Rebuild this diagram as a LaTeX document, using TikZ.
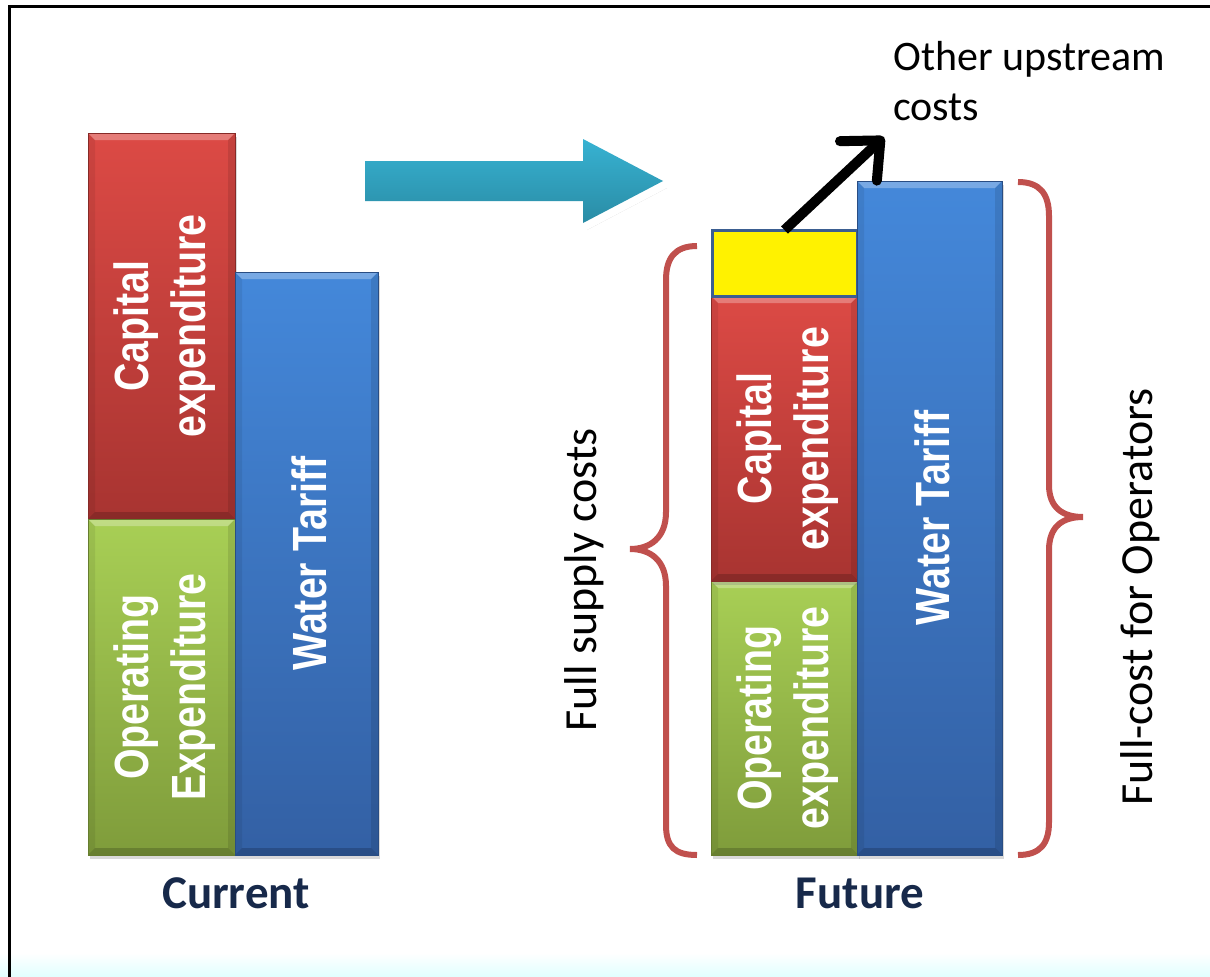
\documentclass[tikz,border=0pt]{standalone}
\usepackage{fontspec}
\setmainfont{Carlito}
\newfontfamily\barfont{Liberation Sans Bold}[FakeStretch=0.82]
\usetikzlibrary{shadows,arrows.meta}

\definecolor{redtop}{HTML}{DC4A45}
\definecolor{redbot}{HTML}{A83431}
\definecolor{greentop}{HTML}{A8CF55}
\definecolor{greenbot}{HTML}{7F9C3B}
\definecolor{bluetop}{HTML}{4488DA}
\definecolor{bluebot}{HTML}{3360A4}
\definecolor{cyantop}{HTML}{37B2D2}
\definecolor{cyanbot}{HTML}{2A8CA5}
\definecolor{bracered}{HTML}{C0504D}
\definecolor{navy}{HTML}{17294A}
\definecolor{boxedge}{HTML}{3B5E91}

\tikzset{
  bevel/.style={path picture={
    \coordinate (pnw) at (path picture bounding box.north west);
    \coordinate (pne) at (path picture bounding box.north east);
    \coordinate (psw) at (path picture bounding box.south west);
    \coordinate (pse) at (path picture bounding box.south east);
    \fill[white,opacity=.28] (pnw) -- (pne) -- ([shift={(-7pt,-7pt)}]pne) -- ([shift={(7pt,-7pt)}]pnw) -- cycle;
    \fill[black,opacity=.18] (psw) -- (pse) -- ([shift={(-7pt,7pt)}]pse) -- ([shift={(7pt,7pt)}]psw) -- cycle;
    \fill[black,opacity=.07] (pnw) -- ([shift={(7pt,-7pt)}]pnw) -- ([shift={(7pt,7pt)}]psw) -- (psw) -- cycle;
    \fill[black,opacity=.10] (pne) -- ([shift={(-7pt,-7pt)}]pne) -- ([shift={(-7pt,7pt)}]pse) -- (pse) -- cycle;
  }},
  bar/.style={anchor=north west, inner sep=0pt, outer sep=0pt, bevel,
    drop shadow={shadow xshift=2pt, shadow yshift=-4pt, opacity=.3}},
  redbar/.style={bar, top color=redtop, bottom color=redbot, draw=redbot!80!black, line width=.6pt},
  greenbar/.style={bar, top color=greentop, bottom color=greenbot, draw=greenbot!80!black, line width=.6pt},
  bluebar/.style={bar, top color=bluetop, bottom color=bluebot, draw=bluebot!80!black, line width=.6pt},
  bartext/.style={rotate=90, align=center, text=white, font=\barfont\fontsize{48}{57}\selectfont},
  brace/.style={draw=bracered, line width=6pt},
  caption/.style={anchor=base, text=navy, font=\bfseries\fontsize{47}{56}\selectfont},
  sidetext/.style={rotate=90, font=\fontsize{46}{55}\selectfont},
}

\begin{document}
\begin{tikzpicture}[x=1pt,y=-1pt]
\useasboundingbox (0,0) rectangle (1210,977);

% pale strip along the bottom edge
\fill[top color=white, bottom color=cyan!12] (0,953) rectangle (1210,977);

% frame
\draw[line width=3.5pt] (9.5,977) -- (9.5,6.5) -- (1210,6.5);

% current cost bars
\node[redbar, minimum width=147pt, minimum height=386pt] (capcur) at (88,133) {};
\node[greenbar, minimum width=147pt, minimum height=336pt] (opcur) at (88,519) {};
\node[bluebar, minimum width=143pt, minimum height=583pt] (tarcur) at (235,272) {};
\node[bartext] at ([xshift=3pt]capcur.center) {Capital\\expenditure};
\node[bartext] at ([xshift=3pt]opcur.center) {Operating\\Expenditure};
\node[bartext] at ([xshift=3pt]tarcur.center) {Water Tariff};

% transition arrow
\path[fill=black, opacity=.18] (369,168) -- (587,168) -- (587,146) -- (667,188) -- (587,230) -- (587,208) -- (369,208) -- cycle;
\path[draw=white, fill=white, line width=16pt, line join=miter]
  (365,161) -- (583,161) -- (583,139) -- (663,181) -- (583,223) -- (583,201) -- (365,201) -- cycle;
\path[top color=cyantop, bottom color=cyanbot]
  (365,161) -- (583,161) -- (583,139) -- (663,181) -- (583,223) -- (583,201) -- (365,201) -- cycle;

% future cost bars
\node[greenbar, minimum width=147pt, minimum height=274pt] (opfut) at (711,581) {};
\node[redbar, minimum width=147pt, minimum height=285pt] (capfut) at (711,296) {};
\node[anchor=north west, inner sep=0pt, outer sep=0pt, fill=yellow, draw=boxedge, line width=3pt,
  minimum width=145pt, minimum height=66pt] (upstream) at (712,230) {};
\node[bluebar, minimum width=145pt, minimum height=674pt] (tarfut) at (857,181) {};
\node[bartext] at ([xshift=3pt]capfut.center) {Capital\\expenditure};
\node[bartext] at ([xshift=3pt]opfut.center) {Operating\\expenditure};
\node[bartext] at ([xshift=3pt]tarfut.center) {Water Tariff};

% pointer to the upstream cost label
\node[anchor=north west, align=left, inner sep=0pt, font=\fontsize{42}{50}\selectfont]
  (uplabel) at (893,41) {Other upstream\\costs};
\coordinate (uptip) at (884,137);
\draw[line width=10pt, -{Straight Barb[round, length=30pt, width=54pt]}] (upstream.north) -- (uptip);

% braces
\draw[brace] (697,246) .. controls (675,246) and (666,258) .. (666,280) -- (666,512)
  .. controls (666,538) and (650,549) .. (630,549)
  .. controls (650,549) and (666,560) .. (666,586) -- (666,825)
  .. controls (666,847) and (675,855) .. (697,855);
\draw[brace] (1018,182) .. controls (1040,182) and (1049,194) .. (1049,216) -- (1049,485)
  .. controls (1049,508) and (1063,517) .. (1083,517)
  .. controls (1063,517) and (1049,526) .. (1049,550) -- (1049,822)
  .. controls (1049,844) and (1040,855) .. (1018,855);

% brace labels
\node[sidetext] (fullsupply) at (584,580) {Full supply costs};
\node[sidetext] (fullcost) at (1140,597) {Full-cost for Operators};

% captions
\node[caption] (current) at (236,908) {Current};
\node[caption] (future) at (860,908) {Future};
\end{tikzpicture}
\end{document}
